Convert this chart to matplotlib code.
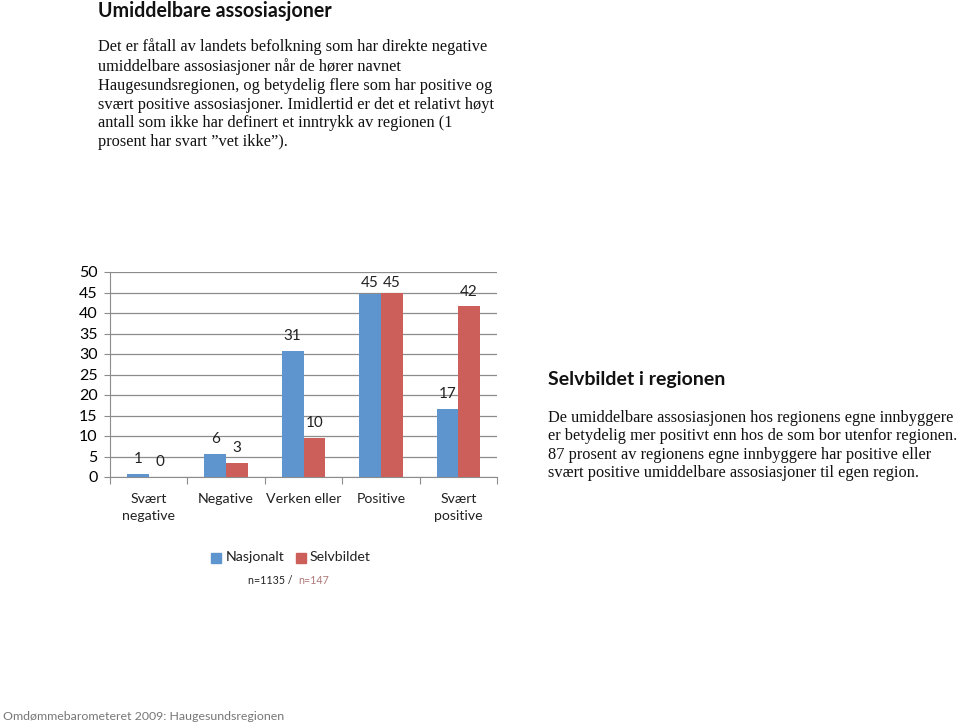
import matplotlib
matplotlib.use("Agg")
import matplotlib.pyplot as plt
import numpy as np

categories = ["Svært\nnegative", "Negative", "Verken eller", "Positive", "Svært\npositive"]
nasjonalt = [0.8, 5.6, 30.7, 44.6, 16.7]
selvbildet = [0.0, 3.4, 9.6, 45.0, 41.6]
nasjonalt_labels = ["1", "6", "31", "45", "17"]
selvbildet_labels = ["0", "3", "10", "45", "42"]
yticks = [0, 5, 10, 15, 20, 25, 30, 35, 40, 45, 50]

BLUE = "#5E95CE"
RED = "#CD5F5B"
SANS = ["Lato", "DejaVu Sans"]
SERIF = ["Liberation Serif", "DejaVu Serif"]

fig = plt.figure(figsize=(9.6, 7.24), dpi=100)
W, H = 960, 724

def fx(px):
    return px / W

def fy(py):
    return 1 - py / H

ax = fig.add_axes([fx(110), fy(477), fx(497) - fx(110), fy(272) - fy(477)])
x = np.arange(len(categories))
bw = 0.28
b1 = ax.bar(x - bw / 2, nasjonalt, bw, color=BLUE, zorder=3, label="Nasjonalt")
b2 = ax.bar(x + bw / 2, selvbildet, bw, color=RED, zorder=3, label="Selvbildet")
for bars, labels in ((b1, nasjonalt_labels), (b2, selvbildet_labels)):
    for rect, lab in zip(bars, labels):
        yv = min(rect.get_height() + 3.6, 47.3)
        ax.text(rect.get_x() + rect.get_width() / 2, yv, lab,
                ha="center", va="center", fontsize=11, family=SANS, color="#222222",
                clip_on=False)

ax.set_xlim(-0.5, len(categories) - 0.5)
ax.set_ylim(0, 50)
ax.set_yticks(yticks)
ax.set_yticklabels([str(t) for t in yticks], family=SANS, fontsize=11.5)
ax.yaxis.grid(True, color="#8c8c8c", linewidth=0.9, zorder=0)
ax.set_xticks(np.arange(-0.5, len(categories), 1.0))
ax.set_xticklabels([])
ax.tick_params(axis="x", length=5, color="#8c8c8c", direction="out")
ax.tick_params(axis="y", length=4, color="#8c8c8c", direction="out", pad=5)
for s in ["top", "right"]:
    ax.spines[s].set_visible(False)
for s in ["left", "bottom"]:
    ax.spines[s].set_color("#8c8c8c")
for i, c in enumerate(categories):
    ax.text(i, -3.9, c, ha="center", va="top", fontsize=10.2, family=SANS,
            color="#222222", linespacing=1.5)

# legend
fig.patches.append(plt.Rectangle((fx(211), fy(563)), 10 / W, 10 / H, color=BLUE, transform=fig.transFigure))
fig.text(fx(226), fy(557), "Nasjonalt", fontsize=10.2, family=SANS, va="center", color="#222222")
fig.patches.append(plt.Rectangle((fx(296), fy(563)), 10 / W, 10 / H, color=RED, transform=fig.transFigure))
fig.text(fx(310), fy(557), "Selvbildet", fontsize=10.2, family=SANS, va="center", color="#222222")
fig.text(fx(248), fy(581), "n=1135 /", fontsize=7.7, family=SANS, va="center", color="#222222")
fig.text(fx(298), fy(581), "n=147", fontsize=7.7, family=SANS, va="center", color="#B07878")

# titles and text
fig.text(fx(98), fy(11), "Umiddelbare assosiasjoner", fontsize=14.1, fontweight="bold",
         family=SANS, va="center", color="#111111")
body = ("Det er fåtall av landets befolkning som har direkte negative\n"
        "umiddelbare assosiasjoner når de hører navnet\n"
        "Haugesundsregionen, og betydelig flere som har positive og\n"
        "svært positive assosiasjoner. Imidlertid er det et relativt høyt\n"
        "antall som ikke har definert et inntrykk av regionen (1\n"
        "prosent har svart ”vet ikke”).")
fig.text(fx(98), fy(38), body, fontsize=11.8, family=SERIF, va="top", color="#111111",
         linespacing=1.24)

fig.text(fx(548), fy(379), "Selvbildet i regionen", fontsize=14, fontweight="bold", family=SANS,
         va="center", color="#111111")
body2 = ("De umiddelbare assosiasjonen hos regionens egne innbyggere\n"
         "er betydelig mer positivt enn hos de som bor utenfor regionen.\n"
         "87 prosent av regionens egne innbyggere har positive eller\n"
         "svært positive umiddelbare assosiasjoner til egen region.")
fig.text(fx(548), fy(410), body2, fontsize=11.75, family=SERIF, va="top", color="#111111",
         linespacing=1.2)

fig.text(fx(3), fy(716), "Omdømmebarometeret 2009: Haugesundsregionen", fontsize=8.9,
         family=SANS, va="center", color="#777777")

fig.savefig("out.png", dpi=100)
